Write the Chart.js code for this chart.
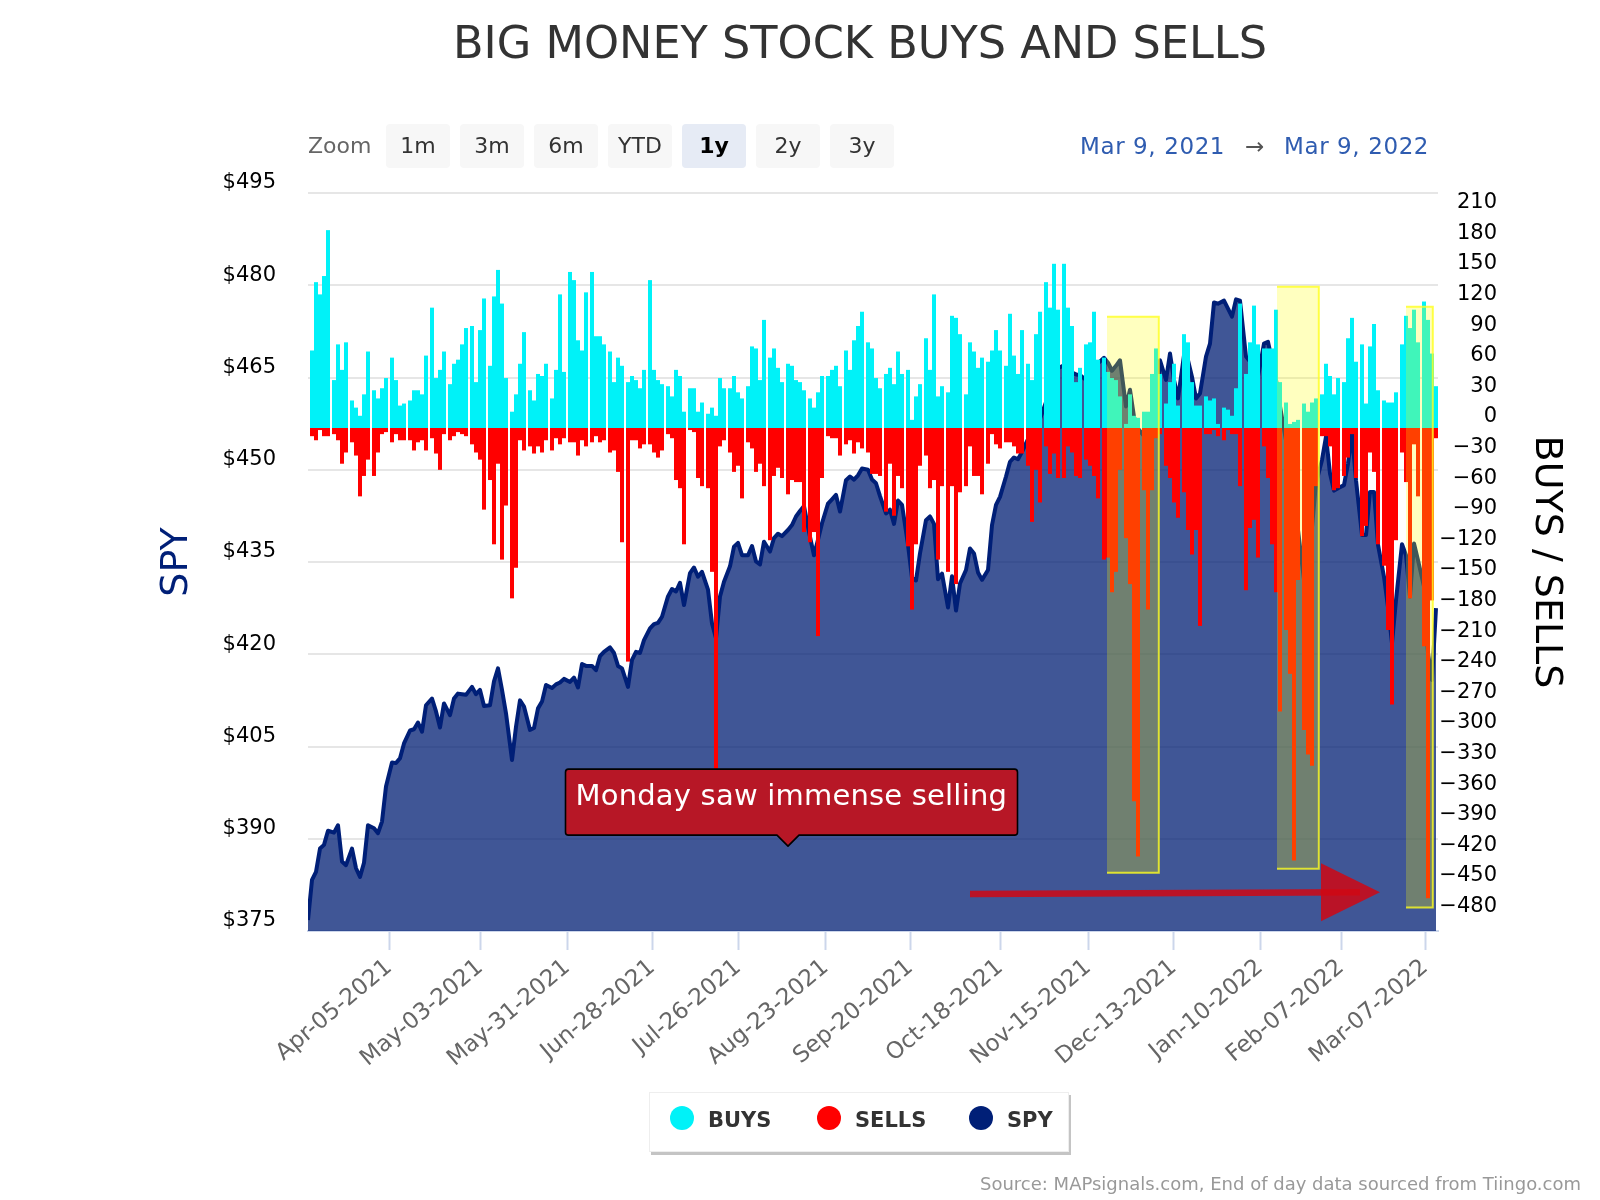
<!DOCTYPE html>
<html>
<head>
<meta charset="utf-8">
<title>Big Money Stock Buys and Sells</title>
<script src="https://cdn.jsdelivr.net/npm/chart.js@4"></script>
<style>
  html, body { margin: 0; padding: 0; background: #fff; }
  body { width: 1600px; height: 1200px; position: relative; overflow: hidden; font-family: "DejaVu Sans", sans-serif; }
  #plot { position: absolute; left: 0; top: 0; }
  .abs { position: absolute; white-space: nowrap; }
  #title { left: 0; width: 1720px; top: 14px; text-align: center; font-size: 44.6px; line-height: 58px; color: #333; font-weight: normal; margin: 0; }
  #zoomLabel { left: 308px; top: 132px; font-size: 22px; line-height: 28px; color: #666; }
  .btn { top: 124px; width: 64px; height: 44px; line-height: 44px; text-align: center; background: #f7f7f7; border-radius: 4px; font-size: 22px; color: #333; }
  .btn.active { background: #e6ebf5; color: #000; font-weight: bold; }
  .range { top: 132px; font-size: 23px; line-height: 28px; letter-spacing: 0.6px; color: #2f5cb0; }
  #legend { left: 649px; top: 1092px; width: 418px; height: 58px; background: #fff; border: 1px solid #eee; box-shadow: 2px 3px 0 #c4c4c4; }
  .dot { top: 1106px; width: 24px; height: 24px; border-radius: 50%; }
  .key { top: 1106px; font-size: 21px; line-height: 28px; font-weight: bold; color: #333; }
  #source { right: 19px; top: 1172px; font-size: 18px; line-height: 24px; color: #999; }
</style>
</head>
<body>
<canvas id="plot" width="1600" height="1200"></canvas>
<h1 id="title" class="abs">BIG MONEY STOCK BUYS AND SELLS</h1>
<div id="zoomLabel" class="abs">Zoom</div>
<div id="buttons"></div>
<div class="abs range" style="left:1080px">Mar 9, 2021</div>
<div class="abs range" style="left:1245px;color:#555">→</div>
<div class="abs range" style="left:1284px">Mar 9, 2022</div>
<div id="legend" class="abs"></div>
<div id="keys"></div>
<div id="source" class="abs">Source: MAPsignals.com, End of day data sourced from Tiingo.com</div>

<script>
// number of bars between the small gaps on the ordinal axis
const barRuns = [5,4,5,4,4,5,4,5,4,5,4,5,4,5,4,4,5,4,5,4,5,4,5,4,5,4,4,5,4,5,4,5,4,5,4,5,4,4,5,4,5,4,5,4,5,4,5,4,5,4,4,5,4,5,4,5,4];

const buys = [
  76,143,131,149,194, 47,82,57,84, 27,20,12,33,75, 37,29,39,49, 69,47,22,24,
  27,37,37,33,71, 118,49,57,75, 43,63,67,82,98, 100,45,96,127, 61,129,155,122,49,
  16,33,63,94, 37,27,53,51,63, 29,57,131,55, 153,145,86,76,133, 153,90,90,82,
  75,45,69,61, 45,51,47,39,57, 145,57,47,43, 41,31,57,51,16, 39,39,16,25,
  14,20,12,49,39, 39,51,35,29, 41,80,78,47,106, 69,78,59,45, 63,61,47,45,37,
  29,20,35,51, 51,57,61,41, 76,57,86,100,114, 84,78,49,39, 53,59,43,75,53,
  57,8,31,43, 88,57,131,31,41, 35,110,108,92, 33,84,75,59,69, 65,76,96,76,
  61,112,71,53,96, 63,47,92,114, 143,118,161,116, 161,118,100,45,59,
  82,84,114,67, 69,55,49,47,31, 4,33,12,10, 16,16,53,78,53, 24,45,63,22,
  92,84,45,22,22, 31,27,29,4, 20,18,12,39,122, 53,84,120,82, 78,78,78,116,45,
  25,4,6,8, 24,16,25,29, 33,63,51,33,49, 45,88,108,65, 82,24,80,102,37,
  27,25,25,35, 82,110,98,116,84, 124,106,73,41
];

const sells = [
  -8,-12,-2,-8,-8, -6,-12,-35,-24, -14,-27,-67,-47,-31, -47,-24,-6,-4, -14,-6,-12,-12,
  -12,-22,-14,-12,-22, -10,-25,-41,-6, -12,-8,-4,-6,-8, -16,-24,-31,-80, -51,-114,-35,-129,-76,
  -167,-137,-12,-22, -18,-25,-18,-24,-12, -22,-10,-16,-10, -14,-14,-27,-12,-18, -14,-8,-14,-12,
  -24,-22,-43,-112, -229,-12,-12,-20,-16, -16,-24,-29,-22, -6,-10,-51,-59,-114, -2,-4,-49,-57,
  -59,-141,-340,-18,-12, -24,-43,-37,-69, -14,-20,-43,-35,-57, -110,-47,-39,-49, -65,-51,-53,-53,-102,
  -112,-102,-204,-49, -8,-10,-10,-27, -16,-12,-25,-14,-20, -24,-45,-45,-47, -82,-35,-86,-47,-59,
  -116,-178,-114,-37, -27,-59,-51,-129,-57, -141,-57,-153,-63, -57,-18,-47,-47,-65, -35,-6,-16,-20,
  -14,-14,-18,-25,-25, -37,-92,-41,-73, -18,-45,-25,-49, -49,-18,-24,-47,-49,
  -31,-37,-47,-69, -129,-127,-161,-141,-41, -108,-153,-366,-420, -61,-178,-61,-10,-6,
  -37,-49,-73,-88, -63,-100,-124,-100,-194, -6,-6,-2,-8, -12,-2,-6,-6,-57, -159,-98,-90,-127,
  -18,-49,-114,-161,-278, -198,-241,-424,-149, -296,-320,-331,-57, -8,-8,-18,-61,-59,
  -47,-29,-6,-49, -106,-96,-24,-43,-114, -135,-198,-271,-110, -24,-53,-167,-16,-67,
  -214,-461,-169,-10
];

// close on Mar 9 2021, the day before the first bar
const spyFirst = 376.8;
const spy = [
  383.3,384.6,388.4,389,391.3, 391,392.2,386.3,385.7, 388.4,385.2,383.8,386.1,392.2,
  391.7,390.9,392.8,398.5, 402.4,402.3,403.1,405.5, 407.6,407.8,408.9,407.4,411.7,
  412.8,410.7,408.1,412, 410.1,412.8,413.6,413.5,413.4, 414.7,413.5,414.2,411.6,
  411.7,415.6,417.7,414.2,410.4, 402.8,408.2,412.5,411.5, 407.7,408,411.2,412.3,415,
  414.5,415.1,415.4,416, 415.5,416.2,414.6,418.4,418.1, 418.1,417.4,419.7,420.4,
  421.1,420.2,418.1,417.7, 414.7,419.1,420.4,420.2,422.3, 424.2,424.9,425.1,426.1,
  429.4,430.6,430.2,431.6,428, 433.2,434.1,432.6,433.4, 430.5,425,422.6,429.4,431.8,
  434.3,437.5,438.1,436.1, 436.1,437.6,435.1,434.6,438.3, 436.7,438.9,439.6,439.2,
  440.2,441,442.4,443.3,444.1, 439.1,436.1,438.6,441.3, 444.5,445.2,445.9,443.2,
  448.3,448.9,448.4,449.1,450.2, 450,448.4,447.8,445.7, 442.9,443.5,441.2,445,444.3,
  437.8,432.4,432,436.4, 441.8,442.4,441.2,432.2,433.1, 427.6,432.7,427.1,431.5,
  433.7,437.2,436.4,433.3,432.1, 433.7,441,444.3,445.6, 448.9,451.3,452,451.7,452.9,
  455,455.4,456.7,458.3, 461,463.5,465.5,466.5, 467,466.5,465.8,465.5,465.4,
  464.6,465.1,466.2,467.3, 468.2,467.4,466.1,466.9,467.8, 460.3,463,458.6,456.7,
  455.5,454.5,455,460,467.8, 464.6,468.9,464.6,461.6, 468.6,467.8,465.1,461.6,462.4,
  468.4,470.5,477.2,477, 477.5,476.2,474.9,477.7,477.5, 468.4,467.6,466.2,465.1,
  470.5,470.8,467.8,464.6,460.3, 454.8,450,444,440.2, 432.1,436.4,440.7,447.8,
  451.6,455.4,449.4,446.6,447, 447.5,451,455.8,448.3, 439.4,439.4,446.4,446.4,437.8,
  432.6,427.7,421.8,428.8, 437.9,436.1,429.4,438,435.3, 431,420.2,415.8,427.5
];

const xTickLabels = ['Apr-05-2021','May-03-2021','May-31-2021','Jun-28-2021','Jul-26-2021','Aug-23-2021','Sep-20-2021','Oct-18-2021','Nov-15-2021','Dec-13-2021','Jan-10-2022','Feb-07-2022','Mar-07-2022'];
const xTickSlots = [40.5,86,129.5,172,215,258.75,301,346,390,432.75,476,516.5,558.5];
const spyTicks = [495,480,465,450,435,420,405,390,375];
const flowTicks = [210,180,150,120,90,60,30,0,-30,-60,-90,-120,-150,-180,-210,-240,-270,-300,-330,-360,-390,-420,-450,-480];

// shaded windows: x slots and top / bottom on the buys-sells axis
const zoneStart = [399.5, 484.5, 549];
const zoneEnd = [425.4, 505.4, 562.4];
const zoneTop = [109, 138.5, 119];
const zoneBottom = [-436, -432, -470];

const calloutText = 'Monday saw immense selling';

const buttonLabels = ['1m','3m','6m','YTD','1y','2y','3y'];
const legendLabels = ['BUYS','SELLS','SPY'];
const legendColors = ['#00f2f8','#ff0000','#001f77'];

// each bar takes two slots, one slot between runs
const barSlots = [];
let nextSlot = 1;
barRuns.forEach(run => {
    for (let i = 0; i < run; i++) {
        barSlots.push(nextSlot + 1);
        nextSlot += 2;
    }
    nextSlot += 1;
});

const buttons = document.getElementById('buttons');
buttonLabels.forEach((label, i) => {
    const b = document.createElement('div');
    b.className = 'abs btn' + (label === '1y' ? ' active' : '');
    b.style.left = (386 + i * 74) + 'px';
    b.textContent = label;
    buttons.appendChild(b);
});

const keys = document.getElementById('keys');
[670, 817, 969].forEach((left, i) => {
    const d = document.createElement('div');
    d.className = 'abs dot';
    d.style.left = left + 'px';
    d.style.background = legendColors[i];
    keys.appendChild(d);
    const t = document.createElement('div');
    t.className = 'abs key';
    t.style.left = (left + 38) + 'px';
    t.textContent = legendLabels[i];
    keys.appendChild(t);
});

const overlayPlugin = {
    id: 'overlay',
    afterDatasetsDraw(chart) {
        const ctx = chart.ctx;
        const x = chart.scales.x;
        const y = chart.scales.y;
        const y2 = chart.scales.y2;

        zoneStart.forEach((start, i) => {
            const left = x.getPixelForValue(start);
            const right = x.getPixelForValue(zoneEnd[i]);
            const top = y2.getPixelForValue(zoneTop[i]);
            const bottom = y2.getPixelForValue(zoneBottom[i]);
            ctx.save();
            ctx.fillStyle = 'rgba(255,255,0,0.25)';
            ctx.fillRect(left, top, right - left, bottom - top);
            ctx.strokeStyle = 'rgba(255,255,30,0.8)';
            ctx.lineWidth = 2;
            ctx.beginPath();
            ctx.moveTo(left, top);
            ctx.lineTo(right, top);
            ctx.lineTo(right, bottom);
            ctx.lineTo(left, bottom);
            ctx.stroke();
            ctx.restore();
        });

        // arrow
        const ax0 = x.getPixelForValue(331);
        const ax1 = x.getPixelForValue(506.5);
        const ax2 = x.getPixelForValue(536);
        const ay0 = y.getPixelForValue(381);
        const ay1 = y.getPixelForValue(381.3);
        ctx.save();
        ctx.strokeStyle = 'rgba(208,8,20,0.85)';
        ctx.lineWidth = 6.5;
        ctx.beginPath();
        ctx.moveTo(ax0, ay0);
        ctx.lineTo(ax2 - 20, ay1);
        ctx.stroke();
        ctx.fillStyle = 'rgba(208,8,20,0.85)';
        ctx.beginPath();
        ctx.moveTo(ax1, ay1 - 29);
        ctx.lineTo(ax2, ay1);
        ctx.lineTo(ax1, ay1 + 29);
        ctx.closePath();
        ctx.fill();
        ctx.restore();

        // callout
        const tipX = x.getPixelForValue(240);
        const tipY = y.getPixelForValue(388.8);
        const boxLeft = tipX - 222.5;
        const boxRight = tipX + 229.5;
        const boxBottom = tipY - 11;
        const boxTop = boxBottom - 66;
        ctx.save();
        ctx.fillStyle = '#b71726';
        ctx.strokeStyle = '#000';
        ctx.lineWidth = 1.6;
        ctx.lineJoin = 'round';
        ctx.beginPath();
        ctx.moveTo(boxLeft + 3, boxTop);
        ctx.lineTo(boxRight - 3, boxTop);
        ctx.quadraticCurveTo(boxRight, boxTop, boxRight, boxTop + 3);
        ctx.lineTo(boxRight, boxBottom - 3);
        ctx.quadraticCurveTo(boxRight, boxBottom, boxRight - 3, boxBottom);
        ctx.lineTo(tipX + 11, boxBottom);
        ctx.lineTo(tipX, tipY);
        ctx.lineTo(tipX - 11, boxBottom);
        ctx.lineTo(boxLeft + 3, boxBottom);
        ctx.quadraticCurveTo(boxLeft, boxBottom, boxLeft, boxBottom - 3);
        ctx.lineTo(boxLeft, boxTop + 3);
        ctx.quadraticCurveTo(boxLeft, boxTop, boxLeft + 3, boxTop);
        ctx.closePath();
        ctx.fill();
        ctx.stroke();
        ctx.fillStyle = '#fff';
        ctx.font = '29px "DejaVu Sans"';
        ctx.letterSpacing = '0.2px';
        ctx.textAlign = 'left';
        ctx.textBaseline = 'middle';
        ctx.fillText(calloutText, boxLeft + 10, boxTop + 28);
        ctx.restore();
    }
};

const fontFamily = '"DejaVu Sans", sans-serif';

new Chart(document.getElementById('plot'), {
    type: 'bar',
    plugins: [overlayPlugin],
    data: {
        datasets: [
            {
                label: 'BUYS',
                data: buys.map((v, i) => ({ x: barSlots[i], y: v })),
                backgroundColor: '#00f2f8',
                yAxisID: 'y2',
                order: 1,
                grouped: false,
                barThickness: 4,
                inflateAmount: 0,
                borderWidth: 0
            },
            {
                label: 'SELLS',
                data: sells.map((v, i) => ({ x: barSlots[i], y: v })),
                backgroundColor: '#ff0000',
                yAxisID: 'y2',
                order: 1,
                grouped: false,
                barThickness: 4,
                inflateAmount: 0,
                borderWidth: 0
            },
            {
                type: 'line',
                label: 'SPY',
                data: [{ x: 0, y: spyFirst }].concat(spy.map((v, i) => ({ x: barSlots[i], y: v }))),
                borderColor: '#001f77',
                borderWidth: 4,
                borderJoinStyle: 'round',
                backgroundColor: 'rgba(0,30,115,0.75)',
                fill: 'start',
                tension: 0,
                pointRadius: 0,
                yAxisID: 'y',
                order: 2
            }
        ]
    },
    options: {
        responsive: false,
        animation: false,
        layout: { padding: { top: 193, right: 103 } },
        plugins: {
            legend: { display: false },
            title: { display: false },
            tooltip: { enabled: false }
        },
        scales: {
            x: {
                type: 'linear',
                offset: false,
                min: 0,
                max: 565,
                afterFit(scale) { scale.height = 269; },
                afterBuildTicks(scale) { scale.ticks = xTickSlots.map(v => ({ value: v })); },
                border: { color: '#ccd6eb', width: 2 },
                grid: { offset: false, drawOnChartArea: false, tickLength: 19, tickColor: '#ccd6eb', tickWidth: 2 },
                ticks: {
                    autoSkip: false,
                    maxRotation: 40,
                    minRotation: 40,
                    padding: 4,
                    color: '#666',
                    font: { family: fontFamily, size: 23 },
                    callback: (value, index) => xTickLabels[index]
                }
            },
            y: {
                position: 'left',
                min: 375,
                max: 495,
                afterFit(scale) { scale.width = 308; },
                afterBuildTicks(scale) { scale.ticks = spyTicks.map(v => ({ value: v })); },
                border: { display: false },
                grid: { color: '#e6e6e6', lineWidth: 2, drawTicks: false },
                title: {
                    display: true,
                    text: 'SPY',
                    color: '#001f77',
                    font: { family: fontFamily, size: 38 },
                    padding: { top: 154, bottom: 0 }
                },
                ticks: {
                    padding: 32,
                    labelOffset: -10,
                    color: '#000',
                    font: { family: fontFamily, size: 21 },
                    callback: value => '$' + value
                }
            },
            y2: {
                position: 'right',
                min: -493.1,
                max: 230.4,
                afterFit(scale) { scale.width = 59; },
                afterBuildTicks(scale) { scale.ticks = flowTicks.map(v => ({ value: v })); },
                border: { display: false },
                grid: { display: false, drawTicks: false },
                title: {
                    display: true,
                    text: 'BUYS / SELLS',
                    color: '#000',
                    font: { family: fontFamily, size: 38 },
                    padding: { top: -72, bottom: 0 }
                },
                ticks: {
                    padding: 1,
                    labelOffset: -11,
                    crossAlign: 'far',
                    autoSkip: false,
                    color: '#000',
                    font: { family: fontFamily, size: 21 },
                    callback: value => String(value).replace('-', '\u2212')
                }
            }
        }
    }
});
</script>
</body>
</html>
